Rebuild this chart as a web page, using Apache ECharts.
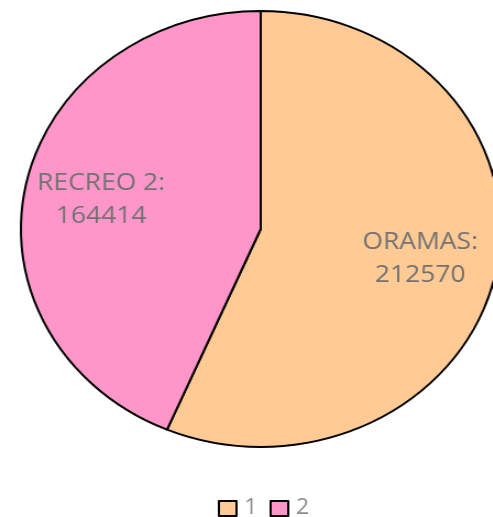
<!DOCTYPE html>
<html><head><meta charset="utf-8">
<script src="https://cdn.jsdelivr.net/npm/echarts@6/dist/echarts.min.js"></script>
<style>
html,body{margin:0;padding:0;background:#fff;overflow:hidden;}
#c{width:448px;height:517px;transform:scaleX(1.1);transform-origin:0 0;}
</style></head>
<body><div id="c"></div>
<script>
const legendNames = ['1', '2'];
const sliceLabels = ['ORAMAS', 'RECREO 2'];
const values = [212570, 164414];
const colors = ['#FFCA94', '#FF96CA'];

const chart = echarts.init(document.getElementById('c'), null, {renderer: 'canvas'});
const mainData = legendNames.map((n, i) => ({name: n, value: values[i], itemStyle: {color: colors[i]}}));
chart.setOption({
  animation: false,
  legend: {
    data: legendNames,
    left: 193, top: 493, padding: 5,
    itemWidth: 16, itemHeight: 15, itemGap: 11,
    icon: 'rect',
    itemStyle: {borderColor: '#000', borderWidth: 2},
    textStyle: {fontFamily: 'Open Sans', fontSize: 21, color: '#8c8c8c', padding: [0,0,0,2]}
  },
  series: [
    {
      type: 'pie', center: [237, 229], radius: [0, 218],
      startAngle: 90, clockwise: true, silent: true,
      itemStyle: {borderColor: '#000', borderWidth: 2},
      label: {show: false}, labelLine: {show: false},
      data: mainData
    },
    {
      type: 'pie', center: [237, 229], radius: [0, 290],
      startAngle: 90, clockwise: true, silent: true,
      legendHoverLink: false,
      itemStyle: {color: 'rgba(0,0,0,0)', borderWidth: 0},
      label: {
        show: true, position: 'inside',
        fontFamily: 'Open Sans', fontSize: 24, color: '#727272', lineHeight: 33,
        formatter: p => sliceLabels[p.dataIndex] + ':\n' + values[p.dataIndex]
      },
      labelLine: {show: false},
      data: values.map((v, i) => ({value: v, name: 'l' + legendNames[i]}))
    }
  ]
});
</script></body></html>
